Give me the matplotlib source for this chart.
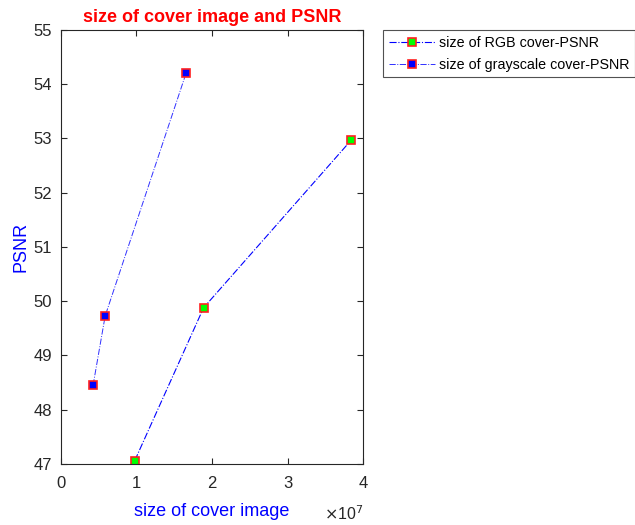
import matplotlib
matplotlib.use("Agg")
import matplotlib.pyplot as plt
from matplotlib.ticker import FuncFormatter, MultipleLocator

plt.rcParams['font.family'] = ['Liberation Sans', 'DejaVu Sans']

rgb_size = [0.98e7, 1.89e7, 3.84e7]
rgb_psnr = [47.06, 49.88, 52.97]
gray_size = [0.43e7, 0.59e7, 1.66e7]
gray_psnr = [48.45, 49.73, 54.21]

fig = plt.figure(figsize=(6.35, 5.25), dpi=100)
ax = fig.add_axes([0.0953, 0.1162, 0.4769, 0.8267])

ax.plot(rgb_size, rgb_psnr, '-.', color='#0000ff', lw=0.8,
        marker='s', markersize=6, markerfacecolor='#00ff00',
        markeredgecolor='#ff2020', markeredgewidth=1.2,
        label='size of RGB cover-PSNR')
ax.plot(gray_size, gray_psnr, '-.', color='#3030ff', lw=0.7,
        marker='s', markersize=6, markerfacecolor='#0000ff',
        markeredgecolor='#ff2020', markeredgewidth=1.2,
        label='size of grayscale cover-PSNR')

ax.set_xlim(0, 4e7)
ax.set_ylim(47, 55)
ax.xaxis.set_major_locator(MultipleLocator(1e7))
ax.yaxis.set_major_locator(MultipleLocator(1))
ax.xaxis.set_major_formatter(FuncFormatter(lambda v, p: f"{v/1e7:g}"))
ax.tick_params(direction='in', top=True, right=True, length=4,
               labelsize=12, colors='#262626')
ax.tick_params(axis='x', pad=9)
ax.tick_params(axis='y', pad=6)
for s in ax.spines.values():
    s.set_color('#262626')
    s.set_linewidth(0.8)

ax.set_title('size of cover image and PSNR', color='#ff0000', fontweight='bold',
             fontsize=13, pad=6)
ax.set_xlabel('size of cover image', color='#0000ff', fontsize=13, labelpad=8)
ax.set_ylabel('PSNR', color='#0000ff', fontsize=13, labelpad=3)
ax.text(1.0, -0.092, r'$\times$10$^{7}$', transform=ax.transAxes,
        ha='right', va='top', fontsize=11.5, color='#262626')

leg = ax.legend(loc='upper left', bbox_to_anchor=(1.065, 1.0), fontsize=10.3,
                frameon=True, fancybox=False, edgecolor='#262626',
                borderaxespad=0, handlelength=3.2, handletextpad=0.3,
                borderpad=0.4, labelspacing=0.55)
leg.get_frame().set_linewidth(0.8)

fig.savefig('out.png', dpi=100)
